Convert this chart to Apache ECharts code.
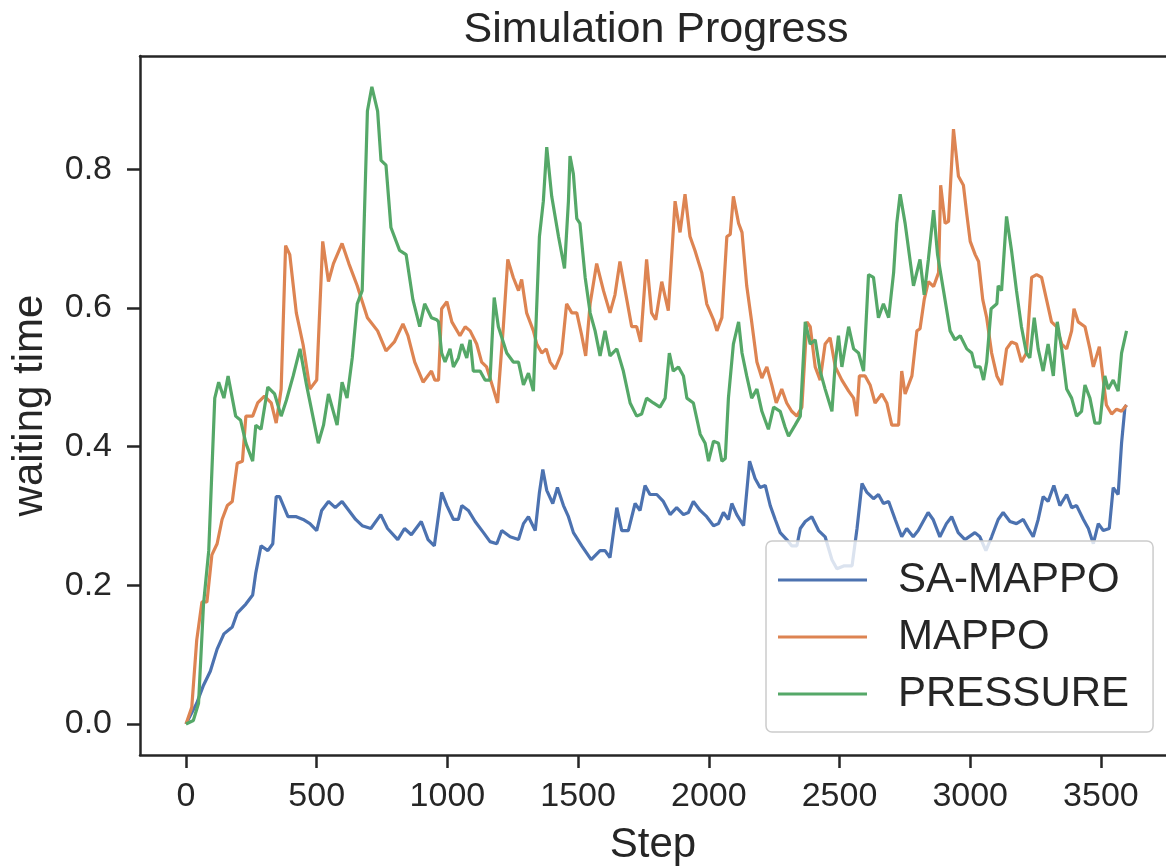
<!DOCTYPE html>
<html>
<head>
<meta charset="utf-8">
<script src="https://cdn.jsdelivr.net/npm/echarts@6/dist/echarts.min.js"></script>
<style>
html,body{margin:0;padding:0;background:#fff;}
#chart{width:1166px;height:867px;}
</style>
</head>
<body>
<div id="chart"></div>
<script>
const seriesNames = ['SA-MAPPO', 'MAPPO', 'PRESSURE'];
const xTicks = [0, 500, 1000, 1500, 2000, 2500, 3000, 3500];
const yTicks = [0.0, 0.2, 0.4, 0.6, 0.8];

const saMappoSteps = [0,15,41,67,93,119,145,177,196,229,255,267,287,313,332,345,358,390,422,448,474,500,519,545,571,597,623,649,674,707,745,771,810,836,862,900,926,950,978,998,1023,1042,1055,1080,1106,1138,1163,1189,1208,1240,1272,1291,1310,1336,1352,1365,1380,1403,1421,1444,1463,1482,1514,1550,1584,1603,1622,1648,1667,1692,1718,1737,1756,1775,1801,1826,1852,1877,1903,1922,1941,1967,1992,2018,2037,2056,2075,2088,2107,2133,2156,2177,2196,2216,2235,2254,2273,2298,2317,2337,2350,2369,2394,2420,2445,2471,2490,2516,2548,2567,2586,2605,2630,2649,2668,2688,2713,2738,2757,2782,2801,2820,2839,2858,2884,2909,2929,2954,2980,3018,3037,3060,3082,3107,3126,3152,3177,3203,3222,3241,3260,3279,3298,3320,3343,3369,3388,3407,3433,3452,3471,3490,3509,3532,3547,3566,3579,3592,3598];
const saMappoValues = [0,0.011,0.03,0.056,0.076,0.108,0.13,0.14,0.16,0.173,0.186,0.218,0.257,0.25,0.26,0.328,0.328,0.299,0.299,0.295,0.289,0.279,0.308,0.321,0.312,0.321,0.308,0.295,0.286,0.282,0.302,0.282,0.266,0.282,0.273,0.292,0.266,0.257,0.334,0.315,0.295,0.295,0.315,0.308,0.292,0.276,0.263,0.26,0.279,0.27,0.266,0.289,0.299,0.279,0.334,0.367,0.337,0.318,0.341,0.315,0.299,0.276,0.257,0.237,0.25,0.25,0.24,0.312,0.279,0.279,0.318,0.308,0.344,0.331,0.331,0.321,0.302,0.312,0.302,0.305,0.321,0.308,0.299,0.286,0.289,0.305,0.295,0.318,0.302,0.286,0.379,0.354,0.341,0.344,0.315,0.295,0.276,0.266,0.257,0.257,0.282,0.292,0.299,0.279,0.27,0.237,0.224,0.228,0.228,0.282,0.347,0.334,0.325,0.331,0.318,0.321,0.295,0.27,0.282,0.27,0.279,0.292,0.305,0.295,0.27,0.289,0.299,0.276,0.266,0.276,0.27,0.25,0.27,0.295,0.305,0.292,0.289,0.295,0.282,0.27,0.295,0.328,0.321,0.344,0.315,0.331,0.312,0.315,0.295,0.282,0.26,0.289,0.279,0.282,0.341,0.331,0.405,0.457,0.46];

const mappoSteps = [0,22,41,61,80,99,119,138,158,177,196,216,229,255,274,300,326,345,364,381,397,422,448,474,500,523,545,564,597,623,655,694,733,765,797,830,849,875,907,939,952,966,978,998,1017,1048,1068,1087,1112,1131,1150,1176,1192,1214,1231,1252,1272,1284,1303,1329,1342,1361,1378,1393,1412,1437,1456,1476,1495,1514,1529,1546,1571,1597,1622,1641,1660,1680,1705,1724,1739,1762,1781,1797,1820,1845,1871,1890,1909,1928,1947,1973,1992,2018,2031,2050,2069,2082,2094,2114,2127,2145,2164,2184,2203,2222,2241,2258,2279,2298,2317,2337,2356,2375,2388,2407,2426,2445,2464,2484,2509,2535,2554,2566,2576,2598,2617,2636,2662,2681,2700,2726,2738,2751,2777,2796,2808,2824,2840,2860,2879,2887,2904,2917,2936,2955,2974,2987,3000,3019,3032,3048,3063,3082,3102,3120,3139,3158,3177,3196,3215,3235,3254,3273,3292,3311,3330,3350,3369,3388,3397,3413,3439,3458,3471,3494,3509,3521,3541,3560,3579,3598];
const mappoValues = [0,0.024,0.121,0.176,0.176,0.244,0.26,0.295,0.315,0.321,0.376,0.379,0.444,0.444,0.463,0.473,0.463,0.434,0.483,0.69,0.677,0.593,0.547,0.483,0.496,0.696,0.638,0.664,0.693,0.664,0.632,0.586,0.567,0.538,0.551,0.577,0.56,0.522,0.493,0.509,0.496,0.496,0.599,0.609,0.58,0.56,0.573,0.567,0.548,0.522,0.515,0.483,0.463,0.573,0.67,0.644,0.625,0.641,0.593,0.567,0.548,0.535,0.541,0.522,0.512,0.535,0.606,0.593,0.593,0.56,0.531,0.606,0.664,0.625,0.593,0.619,0.667,0.625,0.573,0.573,0.551,0.67,0.593,0.583,0.638,0.596,0.754,0.709,0.764,0.703,0.683,0.651,0.606,0.583,0.567,0.586,0.703,0.706,0.761,0.722,0.709,0.632,0.58,0.522,0.499,0.515,0.489,0.463,0.483,0.463,0.451,0.444,0.457,0.58,0.573,0.515,0.496,0.548,0.557,0.515,0.496,0.48,0.47,0.444,0.502,0.502,0.489,0.463,0.476,0.463,0.431,0.431,0.509,0.476,0.502,0.567,0.57,0.612,0.638,0.631,0.651,0.777,0.722,0.725,0.858,0.79,0.777,0.735,0.696,0.677,0.667,0.612,0.586,0.535,0.502,0.489,0.541,0.551,0.548,0.522,0.535,0.644,0.648,0.644,0.612,0.58,0.573,0.548,0.541,0.567,0.599,0.58,0.573,0.541,0.515,0.544,0.496,0.46,0.447,0.454,0.451,0.46];

const pressureSteps = [0,28,48,67,87,110,125,145,161,190,209,229,255,267,287,313,339,364,384,410,436,461,506,526,545,578,597,616,636,655,674,694,711,733,746,765,784,817,842,868,894,913,939,959,966,978,991,1010,1023,1042,1055,1074,1087,1099,1125,1144,1163,1179,1195,1227,1252,1272,1291,1310,1329,1352,1367,1380,1399,1425,1448,1463,1469,1482,1495,1507,1527,1546,1565,1584,1603,1622,1648,1673,1699,1724,1743,1762,1788,1813,1833,1849,1864,1884,1903,1916,1941,1967,1986,1999,2018,2037,2050,2063,2075,2094,2114,2127,2145,2164,2184,2203,2228,2248,2273,2292,2305,2330,2350,2369,2388,2407,2426,2445,2471,2484,2496,2509,2535,2554,2573,2592,2611,2630,2649,2668,2688,2707,2719,2732,2751,2783,2808,2824,2840,2860,2875,2898,2923,2942,2962,2987,3006,3019,3038,3051,3063,3080,3102,3107,3120,3139,3158,3177,3196,3215,3228,3245,3260,3279,3298,3318,3333,3350,3369,3388,3407,3426,3439,3458,3477,3496,3515,3528,3547,3566,3579,3598];
const pressureValues = [0,0.005,0.03,0.173,0.25,0.47,0.493,0.47,0.502,0.444,0.438,0.405,0.379,0.431,0.425,0.486,0.476,0.444,0.467,0.502,0.541,0.489,0.405,0.431,0.476,0.431,0.493,0.47,0.528,0.606,0.625,0.884,0.919,0.884,0.813,0.806,0.716,0.683,0.677,0.612,0.573,0.606,0.586,0.583,0.58,0.535,0.522,0.541,0.515,0.528,0.548,0.528,0.554,0.509,0.509,0.496,0.496,0.615,0.573,0.535,0.522,0.522,0.489,0.506,0.48,0.703,0.754,0.832,0.761,0.703,0.657,0.754,0.819,0.793,0.729,0.722,0.644,0.593,0.567,0.531,0.567,0.531,0.541,0.509,0.463,0.444,0.447,0.47,0.463,0.457,0.47,0.535,0.509,0.515,0.502,0.47,0.463,0.418,0.405,0.379,0.408,0.405,0.379,0.383,0.47,0.548,0.58,0.535,0.502,0.47,0.483,0.451,0.425,0.457,0.451,0.428,0.415,0.431,0.444,0.58,0.548,0.554,0.509,0.483,0.451,0.522,0.56,0.515,0.573,0.541,0.535,0.509,0.648,0.644,0.586,0.606,0.586,0.651,0.722,0.764,0.722,0.632,0.67,0.619,0.67,0.741,0.677,0.625,0.567,0.554,0.56,0.541,0.535,0.515,0.515,0.496,0.522,0.599,0.606,0.632,0.625,0.732,0.683,0.625,0.573,0.535,0.528,0.586,0.541,0.509,0.548,0.502,0.58,0.541,0.483,0.47,0.444,0.451,0.489,0.47,0.434,0.434,0.502,0.483,0.496,0.48,0.535,0.567];

const colors = ['#4c72b0', '#dd8452', '#55a868'];
const FONT = 'Liberation Sans, Arial, sans-serif';
const INK = '#262626';

function zip(xs, ys) { return xs.map((x, i) => [x, ys[i]]); }

const chart = echarts.init(document.getElementById('chart'), null, {renderer: 'canvas'});
const axisLineStyle = {color: INK, width: 2.5};
chart.setOption({
  animation: false,
  backgroundColor: '#ffffff',
  color: colors,
  title: {
    text: 'Simulation Progress',
    left: 651,
    top: 4,
    textAlign: 'center',
    textStyle: {fontFamily: FONT, fontSize: 43, fontWeight: 'normal', color: INK}
  },
  grid: {
    left: 140, top: 56, width: 1026, height: 699,
    show: false,
    outerBoundsMode: 'none',
    containLabel: false
  },
  legend: {
    orient: 'vertical',
    left: 766, top: 541,
    padding: [18, 24, 17, 12],
    itemGap: 15,
    itemWidth: 89, itemHeight: 3,
    icon: 'rect',
    backgroundColor: 'rgba(255,255,255,0.8)',
    borderColor: '#cccccc', borderWidth: 1.5, borderRadius: 6,
    textStyle: {fontFamily: FONT, fontSize: 42, color: INK, lineHeight: 42, padding: [0, 0, 0, 26]},
    data: seriesNames
  },
  xAxis: [{
    type: 'value',
    min: -176, max: 3749,
    name: 'Step',
    nameLocation: 'middle',
    nameGap: 69,
    nameTextStyle: {fontFamily: FONT, fontSize: 42, color: INK},
    axisLine: {show: true, onZero: false, lineStyle: axisLineStyle},
    axisTick: {show: true, length: 13, lineStyle: axisLineStyle, customValues: xTicks},
    axisLabel: {fontFamily: FONT, fontSize: 34, color: INK, margin: 25, customValues: xTicks, formatter: v => String(v)},
    splitLine: {show: false}
  }, {
    type: 'value',
    position: 'top',
    min: -176, max: 3749,
    axisLine: {show: true, onZero: false, lineStyle: axisLineStyle},
    axisTick: {show: false},
    axisLabel: {show: false},
    splitLine: {show: false}
  }],
  yAxis: {
    type: 'value',
    min: -0.0447, max: 0.9634,
    name: 'waiting time',
    nameLocation: 'middle',
    nameGap: 89,
    nameTextStyle: {fontFamily: FONT, fontSize: 42, color: INK},
    axisLine: {show: true, onZero: false, lineStyle: axisLineStyle},
    axisTick: {show: true, length: 13, lineStyle: axisLineStyle, customValues: yTicks},
    axisLabel: {fontFamily: FONT, fontSize: 34, color: INK, margin: 28, customValues: yTicks, formatter: v => v.toFixed(1)},
    splitLine: {show: false}
  },
  series: [
    {name: seriesNames[0], type: 'line', data: zip(saMappoSteps, saMappoValues), showSymbol: false, lineStyle: {width: 3.2}, z: 2},
    {name: seriesNames[1], type: 'line', data: zip(mappoSteps, mappoValues), showSymbol: false, lineStyle: {width: 3.2}, z: 3},
    {name: seriesNames[2], type: 'line', data: zip(pressureSteps, pressureValues), showSymbol: false, lineStyle: {width: 3.2}, z: 4}
  ]
});
</script>
</body>
</html>
